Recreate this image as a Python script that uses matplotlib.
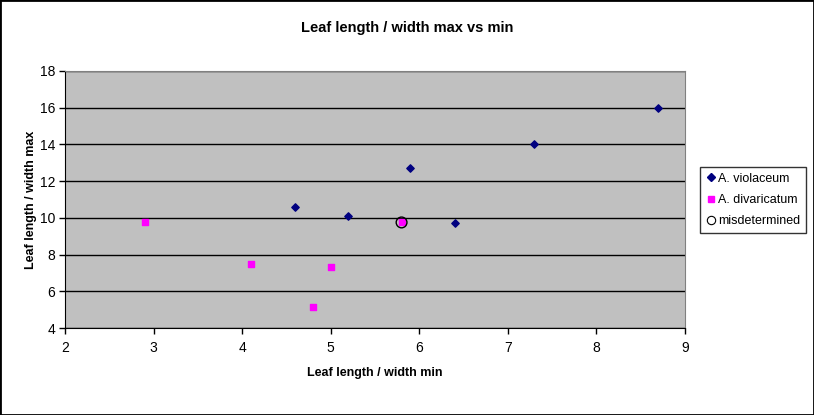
import matplotlib.pyplot as plt
from matplotlib.patches import Rectangle
from matplotlib.lines import Line2D

plt.rcParams['font.family'] = ['Liberation Sans', 'DejaVu Sans']

violaceum_x = [4.6, 5.2, 5.9, 6.4, 7.3, 8.7]
violaceum_y = [10.6, 10.1, 12.7, 9.7, 14.0, 16.0]
divaricatum_x = [2.9, 4.1, 4.8, 5.0, 5.8]
divaricatum_y = [9.8, 7.5, 5.15, 7.35, 9.75]
misdet_x = [5.8]
misdet_y = [9.75]

fig = plt.figure(figsize=(8.14, 4.15), dpi=100)
ax = fig.add_axes([65 / 814, 1 - 328 / 415, 620 / 814, 257 / 415])
ax.set_facecolor('#c0c0c0')

ax.scatter(violaceum_x, violaceum_y, marker='D', s=14, color='#000080', zorder=3)
ax.scatter(divaricatum_x, divaricatum_y, marker='s', s=18, color='#ff00ff', zorder=3)
ax.scatter(misdet_x, misdet_y, marker='o', s=60, facecolors='none', edgecolors='black',
           linewidths=1, zorder=4)

ax.set_xlim(2, 9)
ax.set_ylim(4, 18)
ax.set_xticks(range(2, 10))
ax.set_yticks(range(4, 19, 2))
ax.grid(axis='y', color='black', linewidth=1)
ax.set_axisbelow(True)
ax.tick_params(direction='out', length=4, width=1, labelsize=10)
ax.tick_params(axis='x', pad=5)
ax.tick_params(axis='y', pad=3)
ax.spines['top'].set_color('#808080')
ax.spines['right'].set_color('#808080')

ax.set_xlabel('Leaf length / width min', fontsize=9, fontweight='bold', labelpad=9)
ax.set_ylabel('Leaf length / width max', fontsize=9, fontweight='bold', labelpad=2)
fig.text(0.5, 1 - 28 / 415, 'Leaf length / width max vs min', fontsize=10.5,
         fontweight='bold', ha='center', va='center')

handles = [
    Line2D([], [], linestyle='none', marker='D', markersize=4, color='#000080'),
    Line2D([], [], linestyle='none', marker='s', markersize=5, color='#ff00ff'),
    Line2D([], [], linestyle='none', marker='o', markersize=6, markerfacecolor='none',
           markeredgecolor='black', markeredgewidth=0.8),
]
labels = ['A. violaceum', 'A. divaricatum', 'misdetermined']
leg = fig.legend(handles, labels, loc='center left', bbox_to_anchor=(700 / 814, 1 - 200 / 415),
                 fontsize=9, frameon=True, fancybox=False, edgecolor='black',
                 handletextpad=0.1, handlelength=0.9, borderpad=0.45, labelspacing=0.75,
                 borderaxespad=0)
leg.get_frame().set_linewidth(1)

fig.patches.append(Rectangle((0, 0), 1, 1, transform=fig.transFigure, fill=False,
                             edgecolor='black', linewidth=2))
fig.savefig('out.png', dpi=100)
